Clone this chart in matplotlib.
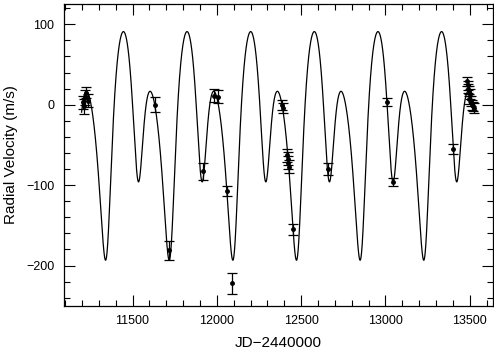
import numpy as np
import matplotlib
matplotlib.use("Agg")
import matplotlib.pyplot as plt
from matplotlib.ticker import MultipleLocator

plt.rcParams['font.family'] = ['Liberation Sans', 'DejaVu Sans']

# Observations (JD-2440000, m/s)
obs_t = [11208, 11210, 11220, 11222, 11236, 11631, 11716, 11918, 11983, 12007,
         12059, 12090, 12385, 12390, 12418, 12421, 12424, 12428, 12453, 12657,
         13010, 13047, 13402, 13484, 13487, 13490, 13493, 13497, 13502, 13506,
         13512, 13518, 13524]
obs_v = [3, -2, 9, 15, 5, 0, -181, -83, 11, 10,
         -107, -222, 0, -4, -63, -67, -72, -77, -155, -80,
         3, -96, -55, 29, 24, 20, 17, 7, 13, 5,
         0, -2, -4]
obs_err = [8, 9, 9, 7, 8, 9.5, 12, 11, 8, 8,
           6, 13, 6, 6, 8, 8, 8, 8, 7, 7,
           5, 5, 6, 6, 6, 6, 6, 6, 6, 6,
           6, 6, 6]

# Two-planet Keplerian model parameters (fit)
P_outer = 377.4
P_inner = P_outer / 2
T_ref = 11449.7
K_in, e_in, w_in, M_in = 105.114, 0.192, 3.488, 3.347
K_out, e_out, w_out, M_out = 66.587, 0.190, 6.981, 4.956
gamma = -28.285
model_start, model_end = 11198, 13522

def kep(t, Pp, K, e, w, M0):
    M = 2*np.pi*t/Pp + M0
    E = M + e*np.sin(M)
    for _ in range(30):
        E = E - (E - e*np.sin(E) - M)/(1 - e*np.cos(E))
    nu = 2*np.arctan2(np.sqrt(1+e)*np.sin(E/2), np.sqrt(1-e)*np.cos(E/2))
    return K*(np.cos(nu + w) + e*np.cos(w))

def model(t):
    tt = t - T_ref
    return gamma + kep(tt, P_inner, K_in, e_in, w_in, M_in) + kep(tt, P_outer, K_out, e_out, w_out, M_out)

fig = plt.figure(figsize=(4.94, 3.52), dpi=100)
ax = fig.add_axes([0.130, 0.1315, 0.868, 0.8565])

t = np.linspace(model_start, model_end, 5000)
ax.plot(t, model(t), color='black', lw=0.9)
ax.errorbar(obs_t, obs_v, yerr=obs_err, fmt='o', color='black', ms=2.5,
            elinewidth=0.9, capsize=3.5, capthick=0.9)

ax.set_xlim(11095, 13638)
ax.set_ylim(-250, 125)
ax.xaxis.set_major_locator(MultipleLocator(500))
ax.xaxis.set_minor_locator(MultipleLocator(100))
ax.yaxis.set_major_locator(MultipleLocator(100))
ax.yaxis.set_minor_locator(MultipleLocator(20))
ax.tick_params(which='both', direction='in', top=True, right=True, width=0.8, labelsize=9)
ax.tick_params(which='major', length=8, pad=7)
ax.tick_params(which='minor', length=4)
for s in ax.spines.values():
    s.set_linewidth(0.9)

ax.set_xlabel('JD\u22122440000', fontsize=11, labelpad=6)
ax.set_ylabel('Radial Velocity (m/s)', fontsize=11, labelpad=6)

fig.savefig("out.png")
